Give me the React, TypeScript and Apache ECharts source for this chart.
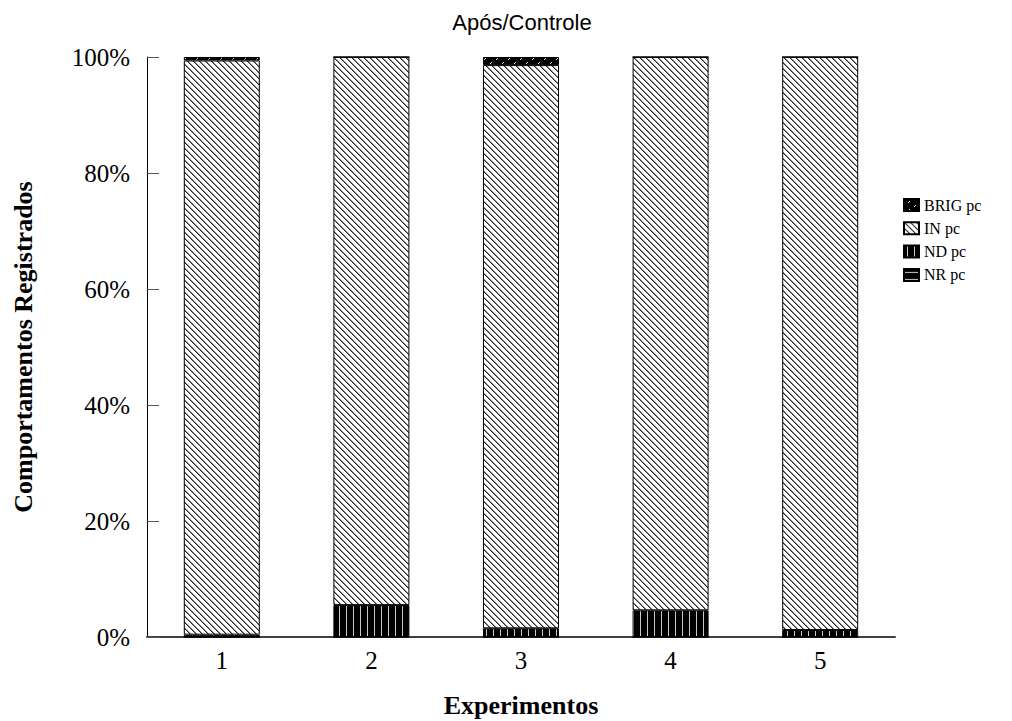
import React, { useEffect, useRef } from "react";
import * as echarts from "echarts";

const categories = ["1", "2", "3", "4", "5"];
const seriesNames = ["NR pc", "ND pc", "IN pc", "BRIG pc"];
const nrValues = [0, 0, 0, 0, 0];
const ndValues = [0.4, 5.5, 1.5, 4.6, 1.2];
const inValues = [99.0, 94.5, 97.1, 95.4, 98.8];
const brigValues = [0.6, 0, 1.4, 0, 0];
const yTicks = ["0%", "20%", "40%", "60%", "80%", "100%"];

function makeCanvas(w: number, h: number, fn: (x: number, y: number) => [number, number, number]) {
  const c = document.createElement("canvas");
  c.width = w;
  c.height = h;
  const ctx = c.getContext("2d")!;
  const img = ctx.createImageData(w, h);
  for (let y = 0; y < h; y++) {
    for (let x = 0; x < w; x++) {
      const [r, g, b] = fn(x, y);
      const i = (y * w + x) * 4;
      img.data[i] = r;
      img.data[i + 1] = g;
      img.data[i + 2] = b;
      img.data[i + 3] = 255;
    }
  }
  ctx.putImageData(img, 0, 0);
  return c;
}

export default function App() {
  const ref = useRef<HTMLDivElement>(null);
  useEffect(() => {
    if (!ref.current) return;
    const chart = echarts.init(ref.current, undefined, { renderer: "svg" });

    const hatch = makeCanvas(6, 6, (x, y) => {
      const m = (((x - y) % 6) + 6) % 6;
      if (m === 0) return [40, 40, 40];
      if (m === 1) return [140, 140, 140];
      return [255, 255, 255];
    });
    const vert = makeCanvas(7, 7, (x) => (x === 3 ? [200, 200, 200] : [0, 0, 0]));
    const horiz = makeCanvas(7, 7, (_x, y) => (y === 3 ? [200, 200, 200] : [0, 0, 0]));
    const brig = makeCanvas(12, 8, (x, y) => {
      if ((x === 4 && y === 3) || (x === 5 && y === 2)) return [230, 230, 230];
      if ((x === 10 && y === 7) || (x === 11 && y === 6)) return [230, 230, 230];
      return [0, 0, 0];
    });
    const pat = (c: HTMLCanvasElement) => ({ image: c, repeat: "repeat" } as any);

    const fills = [pat(horiz), pat(vert), pat(hatch), pat(brig)];
    const dataSets = [nrValues, ndValues, inValues, brigValues];

    const serif = "Liberation Serif, Times New Roman, serif";

    chart.setOption({
      animation: false,
      backgroundColor: "#fff",
      graphic: [
        {
          type: "text",
          x: 522,
          y: 22,
          style: {
            text: "Após/Controle",
            fill: "#000",
            font: "22px Liberation Sans, Arial, sans-serif",
            textAlign: "center",
            textVerticalAlign: "middle",
          },
        },
      ],
      legend: {
        orient: "vertical",
        left: 898,
        top: 192,
        itemWidth: 15,
        itemHeight: 12,
        itemGap: 7.3,
        icon: "rect",
        data: ["BRIG pc", "IN pc", "ND pc", "NR pc"],
        textStyle: { fontFamily: serif, fontSize: 16, color: "#000" },
      },
      grid: { left: 147, right: 117, top: 57, bottom: 84, containLabel: false, outerBoundsMode: "none" },
      xAxis: {
        type: "category",
        data: categories,
        name: "Experimentos",
        nameLocation: "middle",
        nameGap: 55,
        nameTextStyle: { fontFamily: serif, fontSize: 26, fontWeight: "bold", color: "#000", verticalAlign: "top" },
        axisLine: { lineStyle: { color: "#404040", width: 2 } },
        axisTick: { show: false },
        axisLabel: { fontFamily: serif, fontSize: 25, color: "#000", margin: 11 },
      },
      yAxis: {
        type: "value",
        min: 0,
        max: 100,
        interval: 20,
        name: "Comportamentos Registrados",
        nameLocation: "middle",
        nameGap: 111,
        nameTextStyle: { fontFamily: serif, fontSize: 26, fontWeight: "bold", color: "#000" },
        axisLine: { show: true, lineStyle: { color: "#000", width: 1 } },
        axisTick: { show: true, inside: true, length: 12, lineStyle: { color: "#555" } },
        splitLine: { show: false },
        axisLabel: {
          fontFamily: serif,
          fontSize: 25,
          color: "#000",
          margin: 17,
          formatter: (v: number) => yTicks[Math.round(v / 20)],
        },
      },
      series: seriesNames.map((name, i) => ({
        name,
        type: "bar",
        stack: "total",
        barWidth: 76,
        data: dataSets[i],
        itemStyle: { color: fills[i], borderColor: "#000", borderWidth: 1 },
      })),
    });
    return () => chart.dispose();
  }, []);
  return (
    <div
      ref={ref}
      style={{ position: "fixed", left: 0, top: 0, width: 1012, height: 721, background: "#fff" }}
    />
  );
}
